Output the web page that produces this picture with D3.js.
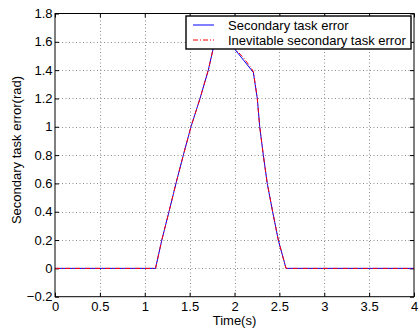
<!DOCTYPE html>
<html>
<head>
<meta charset="utf-8">
<script src="https://cdn.jsdelivr.net/npm/d3@7"></script>
<style>
  html, body { margin: 0; padding: 0; background: #fff; }
  svg { display: block; font-family: "Liberation Sans", Arial, sans-serif; }
</style>
</head>
<body>
<svg id="chart" width="419" height="331"></svg>
<script>
// Secondary task error over time (seconds)
const timeSecondary = [0, 1.12, 1.19, 1.27, 1.348, 1.43, 1.515, 1.616, 1.708, 1.764, 1.81, 2.006, 2.1, 2.21, 2.254, 2.281, 2.321, 2.365, 2.425, 2.488, 2.574, 4];
const errorSecondary = [0, 0, 0.2, 0.4, 0.6, 0.8, 1.0, 1.2, 1.4, 1.556, 1.69, 1.545, 1.471, 1.384, 1.2, 1.0, 0.8, 0.6, 0.4, 0.2, 0, 0];

// Inevitable secondary task error
const timeInevitable = [0, 1.12, 1.19, 1.27, 1.348, 1.43, 1.515, 1.616, 1.708, 1.764, 1.81, 2.006, 2.1, 2.18, 2.21, 2.254, 2.281, 2.321, 2.365, 2.425, 2.488, 2.574, 4];
const errorInevitable = [0, 0, 0.2, 0.4, 0.6, 0.8, 1.0, 1.2, 1.4, 1.556, 1.69, 1.55, 1.488, 1.42, 1.39, 1.2, 1.0, 0.8, 0.6, 0.4, 0.2, 0, 0];

const xTicks = [0, 0.5, 1, 1.5, 2, 2.5, 3, 3.5, 4];
const xTickLabels = ["0", "0.5", "1", "1.5", "2", "2.5", "3", "3.5", "4"];
const yTicks = [-0.2, 0, 0.2, 0.4, 0.6, 0.8, 1, 1.2, 1.4, 1.6, 1.8];
const yTickLabels = ["\u22120.2", "0", "0.2", "0.4", "0.6", "0.8", "1", "1.2", "1.4", "1.6", "1.8"];
const legendLabels = ["Secondary task error", "Inevitable secondary task error"];

const svg = d3.select("#chart");
const plotLeft = 55, plotRight = 414, plotTop = 13.5, plotBottom = 296.7;
const fontSize = "13px";

const x = d3.scaleLinear().domain([0, 4]).range([plotLeft, plotRight]);
const y = d3.scaleLinear().domain([-0.2, 1.8]).range([plotBottom, plotTop]);

// grid
const grid = svg.append("g").attr("stroke", "#8c8c8c").attr("stroke-width", 1)
  .attr("stroke-dasharray", "1,2.5");
xTicks.slice(1, -1).forEach(t => {
  grid.append("line").attr("x1", Math.round(x(t)) + 0.5).attr("x2", Math.round(x(t)) + 0.5)
    .attr("y1", plotTop).attr("y2", plotBottom);
});
yTicks.slice(1, -1).forEach(t => {
  grid.append("line").attr("y1", Math.round(y(t)) + 0.5).attr("y2", Math.round(y(t)) + 0.5)
    .attr("x1", plotLeft).attr("x2", plotRight);
});

// axes with inward ticks on all four sides
const fmtX = (d, i) => xTickLabels[i];
const fmtY = (d, i) => yTickLabels[i];
const axB = svg.append("g").attr("transform", `translate(0,${plotBottom})`)
  .call(d3.axisBottom(x).tickValues(xTicks).tickFormat(fmtX).tickSizeInner(-4).tickSizeOuter(0).tickPadding(5));
const axL = svg.append("g").attr("transform", `translate(${plotLeft},0)`)
  .call(d3.axisLeft(y).tickValues(yTicks).tickFormat(fmtY).tickSizeInner(-4).tickSizeOuter(0).tickPadding(2.5));
const axT = svg.append("g").attr("transform", `translate(0,${plotTop})`)
  .call(d3.axisTop(x).tickValues(xTicks).tickFormat("").tickSizeInner(-4).tickSizeOuter(0));
const axR = svg.append("g").attr("transform", `translate(${plotRight},0)`)
  .call(d3.axisRight(y).tickValues(yTicks).tickFormat("").tickSizeInner(-4).tickSizeOuter(0));
[axB, axL, axT, axR].forEach(a => {
  a.select(".domain").remove();
  a.selectAll("line").attr("stroke", "#000");
  a.selectAll("text").attr("fill", "#000").style("font-size", fontSize)
    .style("font-family", "'Liberation Sans', Arial, sans-serif");
});
axB.selectAll("text").attr("dy", "0.71em");

// data lines
const lineBlue = d3.line().x((d, i) => x(timeSecondary[i])).y(d => y(d));
const lineRed = d3.line().x((d, i) => x(timeInevitable[i])).y(d => y(d));
svg.append("path").datum(errorSecondary).attr("d", lineBlue)
  .attr("fill", "none").attr("stroke", "#0000ff").attr("stroke-width", 1);
svg.append("path").datum(errorInevitable).attr("d", lineRed)
  .attr("fill", "none").attr("stroke", "#ff0000").attr("stroke-width", 1)
  .attr("stroke-dasharray", "5,2,1,2");

// plot frame
svg.append("rect").attr("x", plotLeft).attr("y", plotTop).attr("width", plotRight - plotLeft).attr("height", plotBottom - plotTop)
  .attr("fill", "none").attr("stroke", "#000").attr("stroke-width", 1);

// legend
const lg = svg.append("g");
lg.append("rect").attr("x", 186).attr("y", 16).attr("width", 225).attr("height", 33)
  .attr("fill", "#fff").attr("stroke", "#000").attr("stroke-width", 1.4);
const legendStyles = [
  { color: "#0000ff", dash: null },
  { color: "#ff0000", dash: "5,2,1,2" }
];
legendLabels.forEach((lbl, i) => {
  const yy = 25 + i * 15;
  lg.append("line").attr("x1", 193).attr("x2", 214).attr("y1", yy).attr("y2", yy)
    .attr("stroke", legendStyles[i].color).attr("stroke-width", 1)
    .attr("stroke-dasharray", legendStyles[i].dash);
  lg.append("text").attr("x", 228).attr("y", yy).attr("dy", "0.35em")
    .style("font-size", fontSize).attr("fill", "#000").text(lbl);
});

// axis titles
svg.append("text").attr("x", (plotLeft + plotRight) / 2).attr("y", 324.5).attr("text-anchor", "middle")
  .style("font-size", fontSize).text("Time(s)");
svg.append("text").attr("transform", `translate(21,150) rotate(-90)`)
  .attr("text-anchor", "middle").style("font-size", fontSize).text("Secondary task error(rad)");
</script>
</body>
</html>
